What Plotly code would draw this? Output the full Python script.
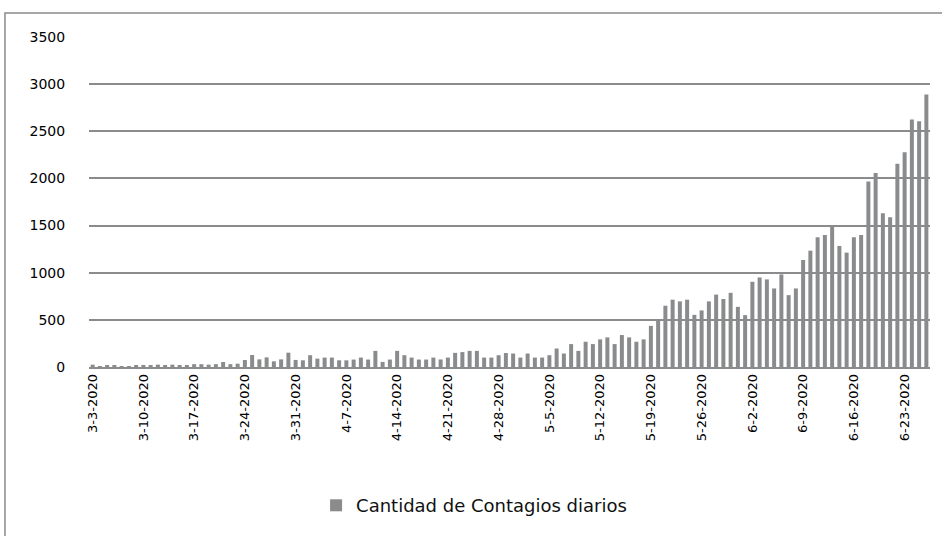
import pandas as pd
import plotly.graph_objects as go

# daily new cases, 3-3-2020 .. 6-26-2020
dates = pd.date_range("2020-03-03", "2020-06-26", freq="D")
labels = [f"{d.month}-{d.day}-{d.year}" for d in dates]

contagios = [
    25, 2, 20, 15, 2, 3, 20, 22, 18, 25, 20, 25, 20, 15, 30, 30, 25, 30, 53, 30,
    35, 74, 127, 81, 102, 60, 81, 152, 75,
    71, 125, 89, 100, 100, 71, 71, 79, 100, 79, 171, 54, 79, 171, 125, 100, 79,
    79, 100, 80, 100, 150, 158, 171, 171, 100, 100, 125, 148,
    143, 100, 143, 100, 100, 125, 196, 143, 243, 171, 268, 243, 293, 314, 243,
    339, 314, 268, 293, 436, 500, 650, 714, 696, 714, 553, 600, 696, 768, 721,
    787, 638, 550, 904, 950, 929, 833, 982, 762, 833, 1135, 1234, 1376, 1401,
    1507, 1284, 1213, 1376, 1401, 1968, 2057, 1631, 1589, 2156, 2277, 2624,
    2606, 2890,
]

tick_labels = labels[::7]
y_ticks = [0, 500, 1000, 1500, 2000, 2500, 3000, 3500]

grey = "#8a8b8d"
font = "DejaVu Sans"

fig = go.Figure(go.Bar(
    x=labels,
    y=contagios,
    name="Cantidad de Contagios diarios",
    marker=dict(color=grey, line=dict(width=0)),
))

fig.update_layout(
    width=942, height=536,
    margin=dict(l=89, r=12, t=37, b=169),
    paper_bgcolor="white", plot_bgcolor="white",
    bargap=0.45,
    showlegend=True,
    legend=dict(
        orientation="h", x=0.27, xanchor="left", y=-0.42, yanchor="middle",
        font=dict(family=font, size=18, color="#111"),
        itemwidth=30,
    ),
    font=dict(family=font, color="#000"),
    shapes=[dict(
        type="rect", xref="paper", yref="paper",
        x0=-0.0999, x1=1.05, y0=-0.7, y1=1.0727,
        line=dict(color="#8a8a8a", width=1.5), layer="below",
    )],
)

fig.update_xaxes(
    type="category",
    tickmode="array", tickvals=tick_labels, ticktext=tick_labels,
    tickangle=-90, tickfont=dict(family=font, size=13, color="#000"),
    showgrid=False, showline=True, linecolor=grey, linewidth=1.5,
    ticks="", zeroline=False,
)

fig.update_yaxes(
    range=[0, 3500], tickvals=y_ticks,
    tickfont=dict(family=font, size=14, color="#000"),
    showgrid=True, gridcolor=grey, gridwidth=1.5,
    zeroline=False, showline=False,
    ticks="outside", ticklen=20, tickcolor="rgba(0,0,0,0)",
)

fig.write_html(
    "out.html",
    config={"displayModeBar": False},
    post_script="document.body.style.margin='0';",
)
